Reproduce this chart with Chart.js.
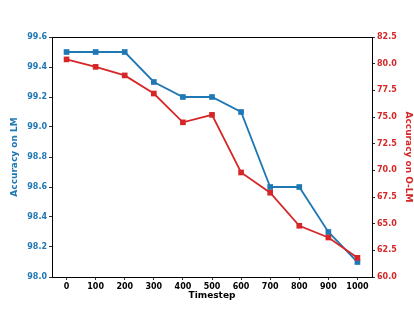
<!DOCTYPE html>
<html>
<head>
<meta charset="utf-8">
<script src="https://cdn.jsdelivr.net/npm/chart.js@4/dist/chart.umd.min.js"></script>
<style>
  html, body { margin: 0; padding: 0; background: #fff; }
  #wrap { width: 414px; height: 311px; }
</style>
</head>
<body>
<div id="wrap"><canvas id="chart"></canvas></div>
<script>
// Data
var timesteps = [0, 100, 200, 300, 400, 500, 600, 700, 800, 900, 1000];
var accLM = [99.5, 99.5, 99.5, 99.3, 99.2, 99.2, 99.1, 98.6, 98.6, 98.3, 98.1];
var accOLM = [80.4, 79.7, 78.9, 77.2, 74.5, 75.2, 69.8, 67.9, 64.8, 63.7, 61.8];

var BLUE = '#1f77b4',
    RED = '#d62728';

function toPoints(ys) {
  return timesteps.map(function(t, i) { return {x: t, y: ys[i]}; });
}

// draws the full box round the plot, like matplotlib spines
var frame = {
  id: 'frame',
  afterDraw: function(chart) {
    var a = chart.chartArea, ctx = chart.ctx;
    ctx.save();
    ctx.strokeStyle = '#000';
    ctx.lineWidth = 1;
    ctx.strokeRect(a.left + 0.5, a.top + 0.5, a.right - a.left, a.bottom - a.top);
    ctx.restore();
  }
};

var tickFont = {family: 'DejaVu Sans', size: 8, weight: 'bold'};
var titleFont = {family: 'DejaVu Sans', size: 9, weight: 'bold'};

new Chart(document.getElementById('chart'), {
  type: 'line',
  data: {
    datasets: [
      {
        label: 'O-LM',
        data: toPoints(accOLM),
        yAxisID: 'y2',
        borderColor: RED,
        backgroundColor: RED,
        borderWidth: 1.8,
        pointStyle: 'rect',
        pointRadius: 4,
        pointBorderWidth: 0,
        order: 0
      },
      {
        label: 'LM',
        data: toPoints(accLM),
        yAxisID: 'y',
        borderColor: BLUE,
        backgroundColor: BLUE,
        borderWidth: 1.8,
        pointStyle: 'rect',
        pointRadius: 4,
        pointBorderWidth: 0,
        order: 1
      }
    ]
  },
  options: {
    responsive: true,
    maintainAspectRatio: false,
    animation: false,
    layout: {padding: {top: 37, left: 0, right: 0, bottom: 0}},
    plugins: {legend: {display: false}, tooltip: {enabled: false}},
    scales: {
      x: {
        type: 'linear',
        min: -50,
        max: 1050,
        afterBuildTicks: function(scale) {
          scale.ticks = timesteps.map(function(t) { return {value: t}; });
        },
        afterFit: function(scale) { scale.height = 34; },
        border: {display: false},
        grid: {drawOnChartArea: false, drawTicks: true, tickLength: 3, color: '#333'},
        ticks: {
          color: '#000',
          font: tickFont,
          padding: 2,
          maxRotation: 0,
          callback: function(v) { return String(v); }
        },
        title: {display: true, text: 'Timestep', color: '#000', font: titleFont, padding: {top: 0, bottom: 10}}
      },
      y: {
        position: 'left',
        min: 98,
        max: 99.6,
        afterFit: function(scale) { scale.width = 52; },
        border: {display: false},
        grid: {drawOnChartArea: false, drawTicks: true, tickLength: 3, color: '#333'},
        ticks: {
          stepSize: 0.2,
          color: BLUE,
          font: tickFont,
          padding: 2,
          callback: function(v) { return v.toFixed(1); }
        },
        title: {display: true, text: 'Accuracy on LM', color: BLUE, font: titleFont, padding: {top: 9, bottom: 0}}
      },
      y2: {
        position: 'right',
        min: 60,
        max: 82.5,
        afterFit: function(scale) { scale.width = 42; },
        border: {display: false},
        grid: {drawOnChartArea: false, drawTicks: true, tickLength: 3, color: '#333'},
        ticks: {
          stepSize: 2.5,
          color: RED,
          font: tickFont,
          padding: 2,
          callback: function(v) { return v.toFixed(1); }
        },
        title: {display: true, text: 'Accuracy on O-LM', color: RED, font: titleFont, padding: {top: 0, bottom: 0}}
      }
    }
  },
  plugins: [frame]
});
</script>
</body>
</html>
